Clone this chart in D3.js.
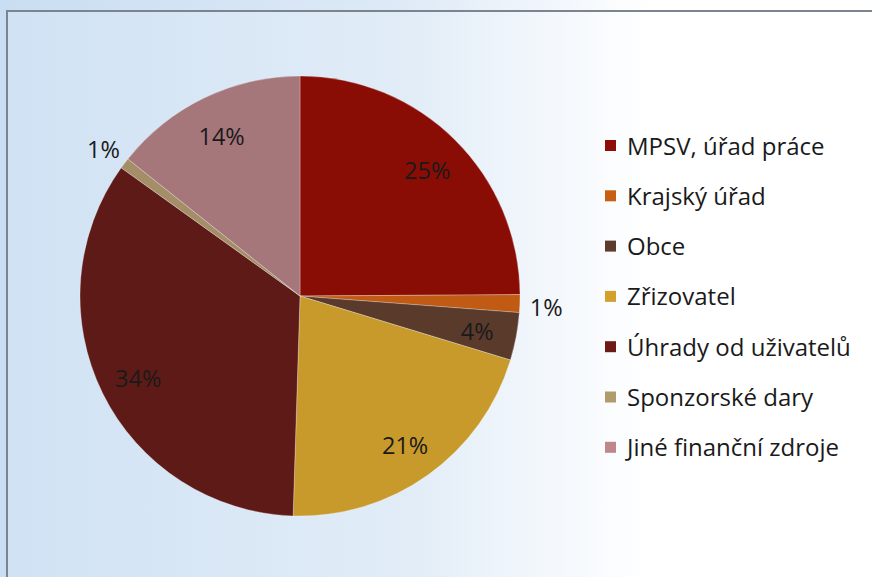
<!DOCTYPE html>
<html><head><meta charset="utf-8">
<script src="https://cdn.jsdelivr.net/npm/d3@7"></script>
<style>html,body{margin:0;padding:0;overflow:hidden;background:#fff}</style>
</head><body>
<svg id="chart" width="872" height="577"></svg>
<script>
const categories = ["MPSV, úřad práce","Krajský úřad","Obce","Zřizovatel","Úhrady od uživatelů","Sponzorské dary","Jiné finanční zdroje"];
const values = [24.9, 1.3, 3.5, 20.8, 34.4, 0.8, 14.3];
const colors = ["#8a0d05","#c15a12","#5a3a2b","#c89a2c","#5e1a17","#a48e67","#a5777b"];
const legendColors = ["#8e0e07","#c75f12","#5e3c2d","#d3a02e","#6c1a17","#b19b6d","#bd878b"];

const svg = d3.select("#chart");
const defs = svg.append("defs");
const g1 = defs.append("linearGradient").attr("id","bg").attr("x1","0").attr("x2","1").attr("y1","0").attr("y2","0");
g1.append("stop").attr("offset","0").attr("stop-color","#c9def2");
g1.append("stop").attr("offset","0.45").attr("stop-color","#dde9f6");
g1.append("stop").attr("offset","0.75").attr("stop-color","#ffffff");
g1.append("stop").attr("offset","1").attr("stop-color","#ffffff");
const g2 = defs.append("linearGradient").attr("id","inner").attr("x1","0").attr("x2","1").attr("y1","0").attr("y2","0");
g2.append("stop").attr("offset","0").attr("stop-color","#d0e2f4");
g2.append("stop").attr("offset","0.45").attr("stop-color","#e1ecf7");
g2.append("stop").attr("offset","0.73").attr("stop-color","#ffffff");
g2.append("stop").attr("offset","1").attr("stop-color","#ffffff");

svg.append("rect").attr("width",872).attr("height",577).attr("fill","url(#bg)");
svg.append("rect").attr("x",7).attr("y",11).attr("width",880).attr("height",600)
  .attr("fill","url(#inner)").attr("stroke","#7b858f").attr("stroke-width",2);

const cx = 300, cy = 296, r = 220;
const pie = d3.pie().sort(null).value(d => d.v);
const data = categories.map((c,i)=>({c, v: values[i], color: colors[i]}));
const arcs = pie(data);
const arc = d3.arc().innerRadius(0).outerRadius(r);
const g = svg.append("g").attr("transform",`translate(${cx},${cy})`);
g.selectAll("path").data(arcs).join("path")
  .attr("d",arc).attr("fill",d=>d.data.color)
  .attr("stroke","rgba(255,255,255,0.35)").attr("stroke-width",0.8);

const total = d3.sum(values);
const inArc = d3.arc().innerRadius(r*0.82).outerRadius(r*0.82);
const outArc = d3.arc().innerRadius(r*1.12).outerRadius(r*1.12);
g.selectAll("text").data(arcs).join("text")
  .attr("transform", d => {
    const small = (d.data.v/total) < 0.02;
    const p = small ? outArc.centroid(d) : inArc.centroid(d);
    return `translate(${p[0]},${p[1] + 2})`;
  })
  .attr("text-anchor","middle").attr("dominant-baseline","central")
  .attr("font-family","'Open Sans', sans-serif").attr("font-size",23.5)
  .attr("fill","#1a1a1a")
  .text(d => Math.round(d.data.v/total*100) + "%");

const legend = svg.append("g").attr("transform","translate(605,145)");
const rows = legend.selectAll("g").data(categories).join("g")
  .attr("transform",(d,i)=>`translate(0,${i*50.3})`);
rows.append("rect").attr("x",0).attr("y",-5).attr("width",11).attr("height",11)
  .attr("fill",(d,i)=>legendColors[i]);
rows.append("text").attr("x",22).attr("y",0).attr("dominant-baseline","central")
  .attr("font-family","'Open Sans', sans-serif").attr("font-size",24)
  .attr("fill","#1a1a1a").text(d=>d);
</script>
</body></html>
